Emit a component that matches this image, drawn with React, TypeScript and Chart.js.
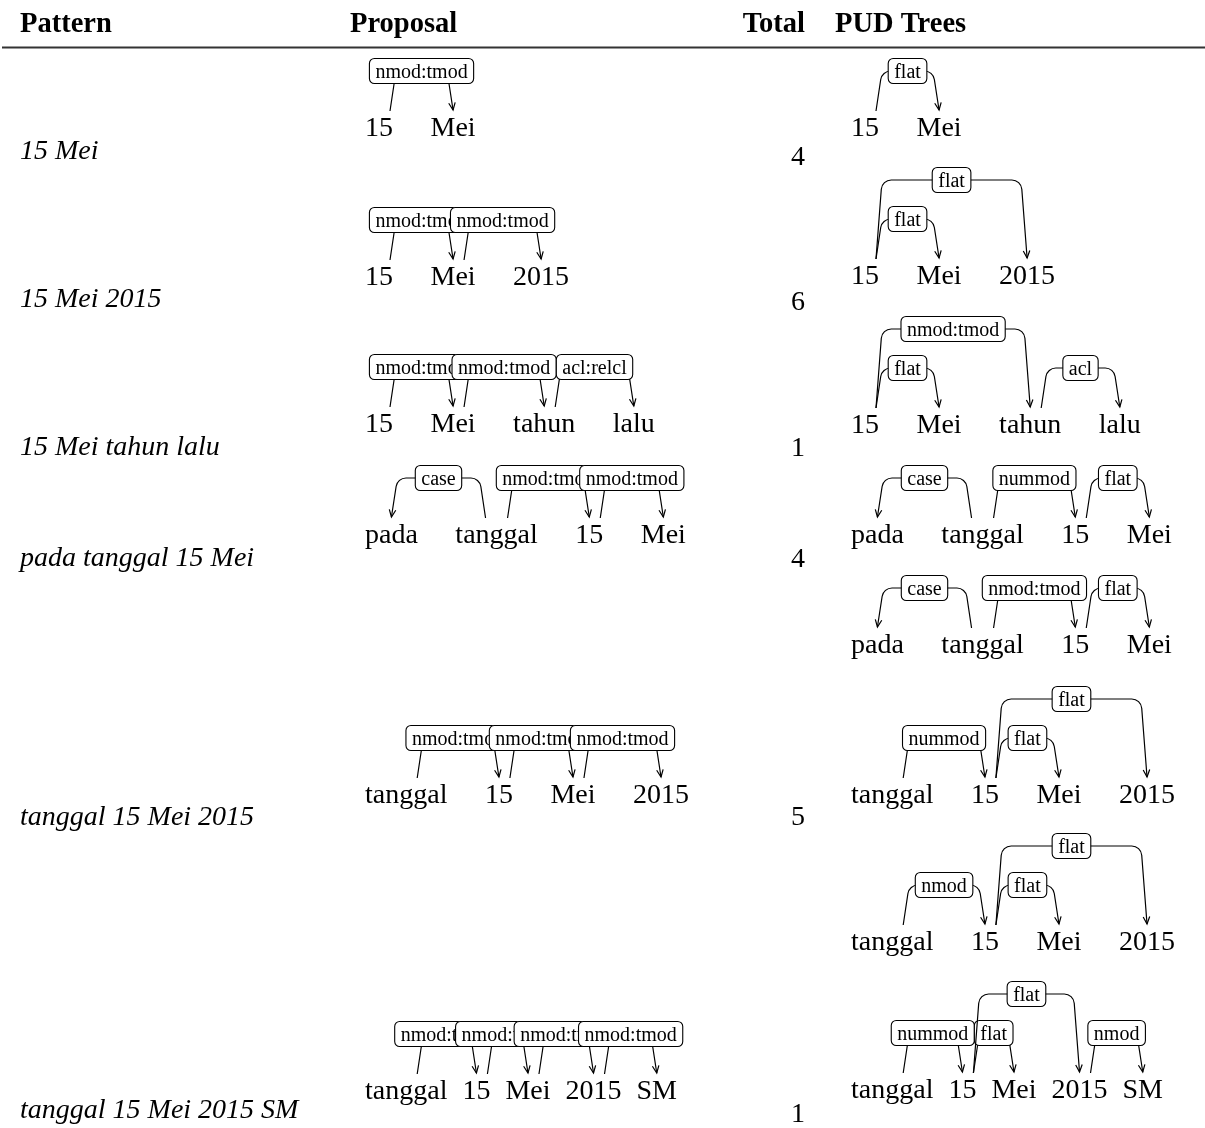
import React, { useEffect, useRef } from "react";
import { Chart, registerables } from "chart.js";

Chart.register(...registerables);

type Arc = [number, number, string, number]; // [head, dependent, label, level]

// ---------- data ----------
const headers = ["Pattern", "Proposal", "Total", "PUD Trees"];
const patterns = [
  "15 Mei",
  "15 Mei 2015",
  "15 Mei tahun lalu",
  "pada tanggal 15 Mei",
  "tanggal 15 Mei 2015",
  "tanggal 15 Mei 2015 SM",
];
const totals = [4, 6, 1, 4, 5, 1];

const proposalWords: string[][] = [
  ["15", "Mei"],
  ["15", "Mei", "2015"],
  ["15", "Mei", "tahun", "lalu"],
  ["pada", "tanggal", "15", "Mei"],
  ["tanggal", "15", "Mei", "2015"],
  ["tanggal", "15", "Mei", "2015", "SM"],
];
const proposalArcs: Arc[][] = [
  [[0, 1, "nmod:tmod", 1]],
  [[0, 1, "nmod:tmod", 1], [1, 2, "nmod:tmod", 1]],
  [[0, 1, "nmod:tmod", 1], [1, 2, "nmod:tmod", 1], [2, 3, "acl:relcl", 1]],
  [[1, 0, "case", 1], [1, 2, "nmod:tmod", 1], [2, 3, "nmod:tmod", 1]],
  [[0, 1, "nmod:tmod", 1], [1, 2, "nmod:tmod", 1], [2, 3, "nmod:tmod", 1]],
  [[0, 1, "nmod:tmod", 1], [1, 2, "nmod:tmod", 1], [2, 3, "nmod:tmod", 1], [3, 4, "nmod:tmod", 1]],
];

const pudWords: string[][][] = [
  [["15", "Mei"]],
  [["15", "Mei", "2015"]],
  [["15", "Mei", "tahun", "lalu"]],
  [["pada", "tanggal", "15", "Mei"], ["pada", "tanggal", "15", "Mei"]],
  [["tanggal", "15", "Mei", "2015"], ["tanggal", "15", "Mei", "2015"]],
  [["tanggal", "15", "Mei", "2015", "SM"]],
];
const pudArcs: Arc[][][] = [
  [[[0, 1, "flat", 1]]],
  [[[0, 1, "flat", 1], [0, 2, "flat", 2]]],
  [[[0, 1, "flat", 1], [0, 2, "nmod:tmod", 2], [2, 3, "acl", 1]]],
  [
    [[1, 0, "case", 1], [1, 2, "nummod", 1], [2, 3, "flat", 1]],
    [[1, 0, "case", 1], [1, 2, "nmod:tmod", 1], [2, 3, "flat", 1]],
  ],
  [
    [[0, 1, "nummod", 1], [1, 2, "flat", 1], [1, 3, "flat", 2]],
    [[0, 1, "nmod", 1], [1, 2, "flat", 1], [1, 3, "flat", 2]],
  ],
  [[[0, 1, "nummod", 1], [1, 2, "flat", 1], [1, 3, "flat", 2], [3, 4, "nmod", 1]]],
];

// ---------- layout ----------
const W = 1205;
const H = 1128;
const FONT = '"Liberation Serif", "Times New Roman", serif';
const WORD_SIZE = 28;
const HEADER_SIZE = 28.5;
const LABEL_SIZE = 20;
const headerBaseline = 32;
const ruleY = 47.5;
const headerX = [20, 350, 805, 835];
const headerAlign: CanvasTextAlign[] = ["left", "left", "right", "left"];
const patternX = 20;
const totalRightX = 805;
const proposalX = 365;
const pudX = 851;
const patternBaselines = [159, 307, 455, 566, 825, 1118];
const totalBaselines = [165, 310, 456, 567, 825, 1122];
const proposalBaselines = [136, 285, 432, 543, 803, 1099];
const pudBaselines = [[136], [284], [433], [543, 653], [803, 950], [1098]];
const proposalGaps = [37.5, 37.5, 37.5, 37.5, 37.5, 15];
const pudGaps = [[37.5], [37.5], [37.5], [37.5, 37.5], [37.5, 37.5], [15]];
const levelRise = [0, 65, 104];
const LEG_BOTTOM = 25;
const SRC_OFFSET = 11;
const SLANT = 6;
const CORNER = 10;
const BOX_H = 25;
const BOX_PAD = 6;

function drawTable(chart: Chart) {
  const ctx = chart.ctx;
  const xs = chart.scales.x;
  const ys = chart.scales.y;
  const X = (v: number) => xs.getPixelForValue(v);
  const Y = (v: number) => ys.getPixelForValue(v);
  const pxPerUnit = (X(100) - X(0)) / 100;

  ctx.save();
  ctx.fillStyle = "#000";
  ctx.strokeStyle = "#000";
  ctx.textBaseline = "alphabetic";

  // headers
  ctx.font = `bold ${HEADER_SIZE}px ${FONT}`;
  headers.forEach((h, i) => {
    ctx.textAlign = headerAlign[i];
    ctx.fillText(h, X(headerX[i]), Y(headerBaseline));
  });
  ctx.beginPath();
  ctx.lineWidth = 2;
  ctx.strokeStyle = "#333";
  ctx.moveTo(X(2), Y(ruleY));
  ctx.lineTo(X(W), Y(ruleY));
  ctx.stroke();
  ctx.strokeStyle = "#000";

  // patterns
  ctx.font = `italic ${WORD_SIZE}px ${FONT}`;
  ctx.textAlign = "left";
  patterns.forEach((p, i) => ctx.fillText(p, X(patternX), Y(patternBaselines[i])));

  // totals
  ctx.font = `${WORD_SIZE}px ${FONT}`;
  ctx.textAlign = "right";
  totals.forEach((t, i) => ctx.fillText(String(t), X(totalRightX), Y(totalBaselines[i])));

  const drawTree = (words: string[], arcs: Arc[], x0: number, base: number, gap: number) => {
    ctx.font = `${WORD_SIZE}px ${FONT}`;
    ctx.textAlign = "left";
    const centers: number[] = [];
    let x = x0;
    words.forEach((w) => {
      const wd = ctx.measureText(w).width / pxPerUnit;
      ctx.fillText(w, X(x), Y(base));
      centers.push(x + wd / 2);
      x += wd + gap;
    });

    arcs.forEach(([h, d, label, level]) => {
      const dir = d > h ? 1 : -1;
      const sx = centers[h] + dir * SRC_OFFSET;
      const tx = centers[d];
      const yb = base - LEG_BOTTOM;
      const yt = base - LEG_BOTTOM - 1;
      const yH = base - levelRise[level];
      const c1x = sx + dir * SLANT;
      const c2x = tx - dir * SLANT;

      ctx.lineWidth = 1.2;
      ctx.beginPath();
      ctx.moveTo(X(sx), Y(yb));
      ctx.arcTo(X(c1x), Y(yH), X(c2x), Y(yH), CORNER);
      ctx.arcTo(X(c2x), Y(yH), X(tx), Y(yt), CORNER);
      ctx.lineTo(X(tx), Y(yt));
      ctx.stroke();

      // arrow head
      const ang = Math.atan2(Y(yt) - Y(yH), X(tx) - X(c2x));
      const len = 8;
      const spread = 0.42;
      ctx.beginPath();
      ctx.moveTo(X(tx) - len * Math.cos(ang - spread), Y(yt) - len * Math.sin(ang - spread));
      ctx.lineTo(X(tx), Y(yt));
      ctx.lineTo(X(tx) - len * Math.cos(ang + spread), Y(yt) - len * Math.sin(ang + spread));
      ctx.stroke();

      // label box
      ctx.font = `${LABEL_SIZE}px ${FONT}`;
      const tw = ctx.measureText(label).width;
      const bw = tw + 2 * BOX_PAD;
      const mx = X((c1x + c2x) / 2);
      const my = Y(yH);
      ctx.beginPath();
      ctx.roundRect(mx - bw / 2, my - BOX_H / 2, bw, BOX_H, 5);
      ctx.fillStyle = "#fff";
      ctx.fill();
      ctx.lineWidth = 1.1;
      ctx.stroke();
      ctx.fillStyle = "#000";
      ctx.textAlign = "center";
      ctx.fillText(label, mx, my + 6.5);
      ctx.textAlign = "left";
      ctx.font = `${WORD_SIZE}px ${FONT}`;
    });
  };

  proposalWords.forEach((words, i) =>
    drawTree(words, proposalArcs[i], proposalX, proposalBaselines[i], proposalGaps[i])
  );
  pudWords.forEach((trees, i) =>
    trees.forEach((words, j) => drawTree(words, pudArcs[i][j], pudX, pudBaselines[i][j], pudGaps[i][j]))
  );

  ctx.restore();
}

export default function App() {
  const ref = useRef<HTMLCanvasElement>(null);
  useEffect(() => {
    document.body.style.margin = "0";
    const canvas = ref.current!;
    const plugin = { id: "depTable", afterDraw: (chart: Chart) => drawTable(chart) };
    const chart = new Chart(canvas, {
      type: "scatter",
      data: { datasets: [{ data: [] }] },
      options: {
        animation: false,
        responsive: false,
        devicePixelRatio: 1,
        layout: { padding: 0 },
        plugins: { legend: { display: false }, tooltip: { enabled: false } },
        scales: {
          x: { type: "linear", min: 0, max: W, display: false },
          y: { type: "linear", min: 0, max: H, reverse: true, display: false },
        },
      },
      plugins: [plugin],
    });
    return () => chart.destroy();
  }, []);
  return <canvas ref={ref} width={W} height={H} style={{ display: "block", background: "#fff" }} />;
}
